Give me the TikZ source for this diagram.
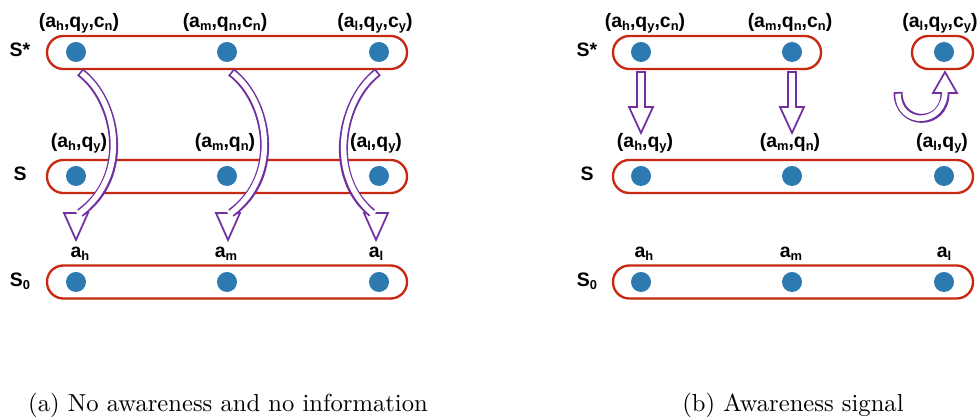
\documentclass[tikz,border=0pt]{standalone}
\usepackage{fontspec}
\setsansfont{Liberation Sans}
\usetikzlibrary{positioning}
\definecolor{dotblue}{RGB}{44,122,176}
\definecolor{boxred}{RGB}{200,40,15}
\definecolor{arrpurple}{RGB}{112,48,160}
\newcommand{\sbs}[1]{\raisebox{-0.25ex}{\fontsize{5.5}{6}\selectfont #1}}
% hollow arrow head: x, base y, tip y
\newcommand{\tiphead}[3]{\draw[headtri] (#1-12,#2) -- (#1+12,#2) -- (#1,#3) -- cycle;}

\begin{document}
\begin{tikzpicture}[x=0.015cm, y=-0.015cm,
    rowbox/.style={draw=boxred, line width=1pt, rounded corners=0.245cm,
                   minimum height=0.495cm, inner sep=0pt},
    dot/.style={circle, fill=dotblue, minimum size=0.3cm, inner sep=0pt},
    lbl/.style={font=\sffamily\bfseries\fontsize{8.3}{10}\selectfont, inner sep=0pt, anchor=base},
    caplbl/.style={font=\fontsize{10.5}{12}\selectfont, inner sep=0pt, anchor=base},
    headtri/.style={draw=arrpurple, line width=0.75pt, fill=white, line join=miter},
    shaftout/.style={draw=arrpurple, line width=0.135cm},
    shaftin/.style={draw=white, line width=0.083cm, shorten <=0.026cm, shorten >=-0.04cm},
    blockarr/.style={draw=arrpurple, line width=0.75pt, fill=white, line join=miter}
  ]
    \useasboundingbox (0,0) rectangle (979,418);

    % ---------- (a) no awareness and no information ----------
    \node[rowbox, minimum width=5.4cm] (aboxst) at (227,52.5) {};
    \node[rowbox, minimum width=5.4cm] (aboxs)  at (227,176.5) {};
    \node[rowbox, minimum width=5.4cm] (aboxz)  at (227,282) {};
    \node[lbl] (arst) at (20,57) {S*};
    \node[lbl] (ars)  at (20,181) {S};
    \node[lbl] (arz)  at (20,287) {S\sbs{0}};
    \foreach \xx/\nm in {76/h, 227/m, 379/l} {
      \node[dot] (ast\nm) at (\xx,52) {};
      \node[dot] (as\nm)  at (\xx,176) {};
      \node[dot] (az\nm)  at (\xx,282) {};
    }
    \node[lbl] (alsth) at (79,28) {(a\sbs{h},q\sbs{y},c\sbs{n})};
    \node[lbl] (alstm) at (225,28) {(a\sbs{m},q\sbs{n},c\sbs{n})};
    \node[lbl] (alstl) at (375,28) {(a\sbs{l},q\sbs{y},c\sbs{y})};
    \node[lbl] (alsh) at (79,148) {(a\sbs{h},q\sbs{y})};
    \node[lbl] (alsm) at (225,148) {(a\sbs{m},q\sbs{n})};
    \node[lbl] (alsl) at (376,148) {(a\sbs{l},q\sbs{y})};
    \node[lbl] (alzh) at (80,258) {a\sbs{h}};
    \node[lbl] (alzm) at (226,258) {a\sbs{m}};
    \node[lbl] (alzl) at (376,258) {a\sbs{l}};

    % curved hollow arrows S* -> S0
    \tiphead{76}{213}{240}
    \tiphead{228}{213}{240}
    \tiphead{376}{213}{240}
    \foreach \dx in {0,151} {
      \draw[shaftout] (80+\dx,72) .. controls (117+\dx,100) and (132+\dx,176) .. (80+\dx,213);
      \draw[shaftin]  (80+\dx,72) .. controls (117+\dx,100) and (132+\dx,176) .. (80+\dx,213);
    }
    \draw[shaftout] (378,72) .. controls (341,100) and (326,176) .. (372,213);
    \draw[shaftin]  (378,72) .. controls (341,100) and (326,176) .. (372,213);

    \node[caplbl] (capa) at (228,412) {(a) No awareness and no information};

    % ---------- (b) awareness signal ----------
    \node[rowbox, minimum width=3.12cm] (bboxst) at (717,52.5) {};
    \node[rowbox, minimum width=0.915cm] (bboxsl) at (942.5,52.5) {};
    \node[rowbox, minimum width=5.4cm] (bboxs)  at (793,176.5) {};
    \node[rowbox, minimum width=5.4cm] (bboxz)  at (793,282) {};
    \node[lbl] (brst) at (587,57) {S*};
    \node[lbl] (brs)  at (587,181) {S};
    \node[lbl] (brz)  at (587,287) {S\sbs{0}};
    \foreach \xx/\nm in {641/h, 792/m, 944/l} {
      \node[dot] (bst\nm) at (\xx,52) {};
      \node[dot] (bs\nm)  at (\xx,176) {};
      \node[dot] (bz\nm)  at (\xx,282) {};
    }
    \node[lbl] (blsth) at (645,28) {(a\sbs{h},q\sbs{y},c\sbs{n})};
    \node[lbl] (blstm) at (790,28) {(a\sbs{m},q\sbs{n},c\sbs{n})};
    \node[lbl] (blstl) at (940,28) {(a\sbs{l},q\sbs{y},c\sbs{y})};
    \node[lbl] (blsh) at (645,148) {(a\sbs{h},q\sbs{y})};
    \node[lbl] (blsm) at (790,148) {(a\sbs{m},q\sbs{n})};
    \node[lbl] (blsl) at (942,148) {(a\sbs{l},q\sbs{y})};
    \node[lbl] (blzh) at (644,258) {a\sbs{h}};
    \node[lbl] (blzm) at (791,258) {a\sbs{m}};
    \node[lbl] (blzl) at (944,258) {a\sbs{l}};

    % straight hollow arrows S* -> S
    \foreach \xx in {641,792} {
      \draw[blockarr] (\xx-4,72) -- (\xx+4,72) -- (\xx+4,107) -- (\xx+12,107)
        -- (\xx,133) -- (\xx-12,107) -- (\xx-4,107) -- cycle;
    }
    % u-turn arrow back into S*
    \tiphead{945}{93}{72}
    \draw[shaftout] (898,92) .. controls (898,127) and (945,127) .. (945,93);
    \draw[shaftin]  (898,92) .. controls (898,127) and (945,127) .. (945,93);

    \node[caplbl] (capb) at (793,412) {(b) Awareness signal};
  \end{tikzpicture}
\end{document}
